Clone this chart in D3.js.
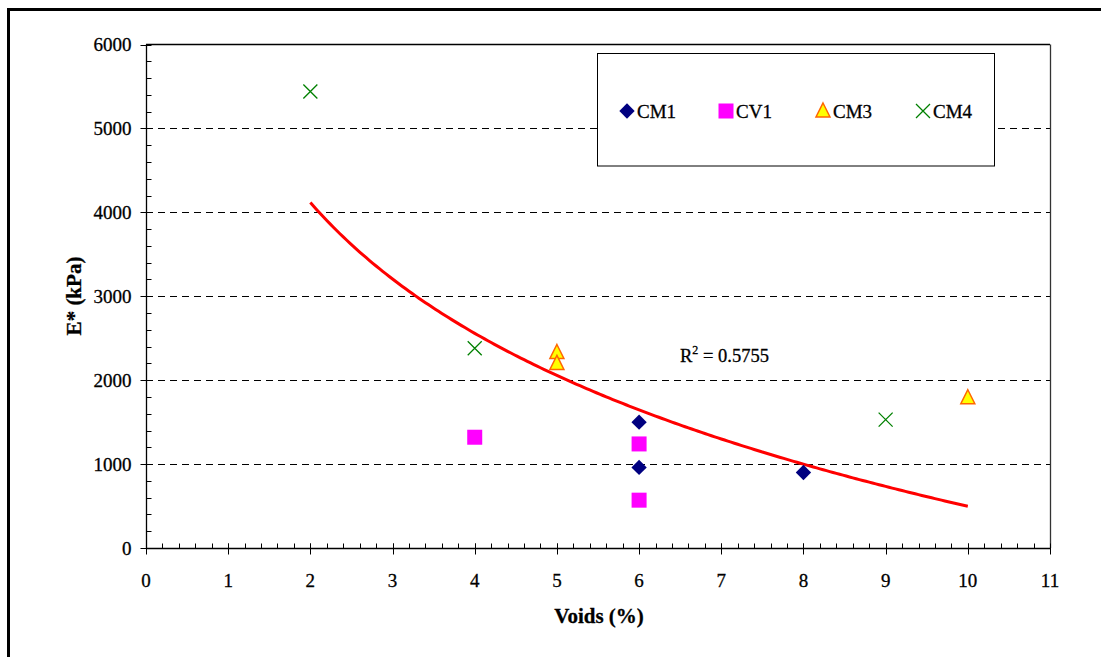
<!DOCTYPE html>
<html><head><meta charset="utf-8">
<script src="https://cdn.jsdelivr.net/npm/d3@7"></script>
<style>body{margin:0;background:#fff}svg{display:block}text{font-family:"Liberation Serif","Times New Roman",serif;fill:#000;stroke:#000;stroke-width:0.3px}</style>
</head><body>
<script>
const seriesNames = ["CM1","CV1","CM3","CM4"];
const cm1X = [6, 6, 8];        const cm1Y = [1500, 960, 900];
const cv1X = [4, 6, 6];        const cv1Y = [1320, 1240, 570];
const cm3X = [5, 5, 10];       const cm3Y = [2330, 2200, 1790];
const cm4X = [2, 4, 9];        const cm4Y = [5440, 2380, 1530];
const xTicks = [0,1,2,3,4,5,6,7,8,9,10,11];
const yTicks = [0,1000,2000,3000,4000,5000,6000];
const r2Label = "0.5755";

const W = 1101, H = 657;
const svg = d3.select("body").append("svg").attr("width", W).attr("height", H);
const x = d3.scaleLinear().domain([0, 11]).range([146, 1050]);
const y = d3.scaleLinear().domain([0, 6000]).range([548, 44.5]);

// outer frame (top & left visible)
svg.append("line").attr("x1", 8.5).attr("x2", 8.5).attr("y1", 8).attr("y2", H).attr("stroke", "#000").attr("stroke-width", 3);
svg.append("line").attr("x1", 7).attr("x2", W).attr("y1", 9.5).attr("y2", 9.5).attr("stroke", "#000").attr("stroke-width", 3);

// gridlines
svg.append("g").selectAll("line").data(yTicks.filter(d => d > 0 && d < 6000)).join("line")
  .attr("x1", x(0)).attr("x2", x(11)).attr("y1", d => Math.round(y(d)) + 0.5).attr("y2", d => Math.round(y(d)) + 0.5)
  .attr("stroke", "#000").attr("stroke-width", 1).attr("stroke-dasharray", "7,5");

// plot border top/right
svg.append("line").attr("x1", x(0)).attr("x2", x(11)).attr("y1", 44.5).attr("y2", 44.5).attr("stroke", "#000").attr("stroke-width", 1.3);
svg.append("line").attr("x1", x(11) + 0.5).attr("x2", x(11) + 0.5).attr("y1", 44.5).attr("y2", 548).attr("stroke", "#333").attr("stroke-width", 1.3);

// y axis
const yAxis = svg.append("g").attr("transform", `translate(${x(0) + 0.5},0)`);
yAxis.append("line").attr("y1", y(0)).attr("y2", y(6000)).attr("stroke", "#000").attr("stroke-width", 1.3);
const yMinor = d3.range(0, 6001, 200);
yAxis.selectAll("line.minor").data(yMinor).join("line").attr("class", "minor")
  .attr("x1", 0).attr("x2", 5).attr("y1", d => Math.round(y(d)) + 0.5).attr("y2", d => Math.round(y(d)) + 0.5).attr("stroke", "#000");
yAxis.selectAll("line.major").data(yTicks).join("line").attr("class", "major")
  .attr("x1", -6).attr("x2", 0).attr("y1", d => Math.round(y(d)) + 0.5).attr("y2", d => Math.round(y(d)) + 0.5).attr("stroke", "#000");
yAxis.selectAll("text").data(yTicks).join("text")
  .attr("x", -15).attr("y", d => y(d)).attr("dy", "0.35em").attr("text-anchor", "end")
  .attr("font-size", 19).text(d => d);

// x axis
const xAxis = svg.append("g").attr("transform", `translate(0,${y(0) + 0.5})`);
xAxis.append("line").attr("x1", x(0)).attr("x2", x(11)).attr("stroke", "#000").attr("stroke-width", 1.3);
const xMinor = d3.range(0, 55).map(i => i / 5);
xAxis.selectAll("line.minor").data(xMinor).join("line").attr("class", "minor")
  .attr("x1", d => Math.round(x(d)) + 0.5).attr("x2", d => Math.round(x(d)) + 0.5).attr("y1", 0).attr("y2", -5).attr("stroke", "#000");
xAxis.selectAll("line.major").data(xTicks).join("line").attr("class", "major")
  .attr("x1", d => Math.round(x(d)) + 0.5).attr("x2", d => Math.round(x(d)) + 0.5).attr("y1", -5).attr("y2", 6).attr("stroke", "#000");
xAxis.selectAll("text").data(xTicks).join("text")
  .attr("x", d => x(d)).attr("y", 32).attr("dy", "0.35em").attr("text-anchor", "middle")
  .attr("font-size", 19).text(d => d);

// axis titles
svg.append("text").attr("x", 599).attr("y", 616).attr("dy", "0.35em").attr("text-anchor", "middle")
  .attr("font-size", 21).attr("font-weight", "bold").text("Voids (%)");
svg.append("text").attr("transform", "translate(74,296) rotate(-90)").attr("dy", "0.35em").attr("text-anchor", "middle")
  .attr("font-size", 21).attr("font-weight", "bold").text("E* (kPa)");

// logarithmic trendline fitted to all points
const allX = [...cm1X, ...cv1X, ...cm3X, ...cm4X];
const allY = [...cm1Y, ...cv1Y, ...cm3Y, ...cm4Y];
const L = allX.map(Math.log);
const mL = d3.mean(L), mY = d3.mean(allY);
const slope = d3.sum(L.map((l, i) => (l - mL) * (allY[i] - mY))) / d3.sum(L.map(l => (l - mL) ** 2));
const icpt = mY - slope * mL;
const xs = d3.range(0, 201).map(i => 2 + i * (8 / 200));
svg.append("path").datum(xs)
  .attr("d", d3.line().x(d => x(d)).y(d => y(icpt + slope * Math.log(d))))
  .attr("fill", "none").attr("stroke", "#ff0000").attr("stroke-width", 3);

// R² label
const r2 = svg.append("text").attr("x", 680).attr("y", 362).attr("font-size", 18.5);
r2.append("tspan").text("R");
r2.append("tspan").attr("dy", -8).attr("font-size", 12).text("2");
r2.append("tspan").attr("dy", 8).text(" = " + r2Label);

// markers
function drawDiamond(g, cx, cy) {
  g.append("path").attr("d", d3.symbol(d3.symbolDiamond2, 150)()).attr("transform", `translate(${cx},${cy})`)
    .attr("fill", "#000080");
}
function drawSquare(g, cx, cy) {
  g.append("rect").attr("x", cx - 7.5).attr("y", cy - 7.5).attr("width", 15).attr("height", 15).attr("fill", "#ff00ff");
}
function drawTriangle(g, cx, cy) {
  g.append("path").attr("d", `M${cx},${cy - 8}L${cx + 7},${cy + 6}L${cx - 7},${cy + 6}Z`)
    .attr("fill", "#ffff00").attr("stroke", "#ff6600").attr("stroke-width", 1.5);
}
function drawX(g, cx, cy) {
  g.append("path").attr("d", `M${cx - 7},${cy - 7}L${cx + 7},${cy + 7}M${cx - 7},${cy + 7}L${cx + 7},${cy - 7}`)
    .attr("stroke", "#008000").attr("stroke-width", 1.3).attr("fill", "none");
}
const mk = svg.append("g");
cv1X.forEach((v, i) => drawSquare(mk, x(v), y(cv1Y[i])));
cm1X.forEach((v, i) => drawDiamond(mk, x(v), y(cm1Y[i])));
cm3X.forEach((v, i) => drawTriangle(mk, x(v), y(cm3Y[i])));
cm4X.forEach((v, i) => drawX(mk, x(v), y(cm4Y[i])));

// legend
const lg = svg.append("g");
lg.append("rect").attr("x", 597.5).attr("y", 53.5).attr("width", 397).attr("height", 112.5)
  .attr("fill", "#fff").attr("stroke", "#000").attr("stroke-width", 1);
const legX = [627, 726, 823, 923];
const drawers = [drawDiamond, drawSquare, drawTriangle, drawX];
seriesNames.forEach((n, i) => {
  drawers[i](lg, legX[i], 111);
  lg.append("text").attr("x", legX[i] + 10).attr("y", 111).attr("dy", "0.35em").attr("font-size", 19).text(n);
});
</script>
</body></html>
